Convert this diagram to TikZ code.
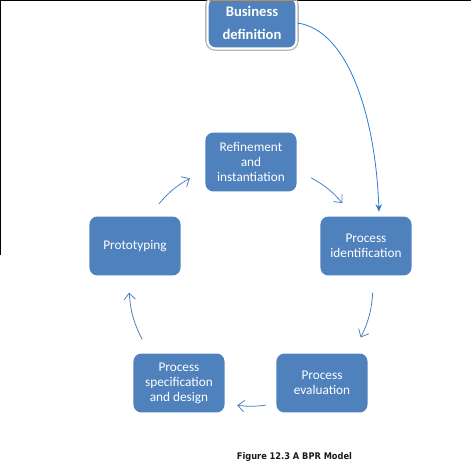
\documentclass[tikz,border=0pt]{standalone}
\usepackage{fontspec}
\setmainfont{Carlito}
\newfontfamily\capfont[FakeStretch=0.9]{DejaVu Sans}
\usetikzlibrary{arrows.meta, positioning, calc}
\definecolor{Phase}{HTML}{4F81BD}
\definecolor{BizRim}{HTML}{B4B8BE}
\definecolor{Feed}{HTML}{2E7BCF}
\definecolor{Tab}{HTML}{C08A50}
\definecolor{Ink}{HTML}{1A1A1A}

\begin{document}
\begin{tikzpicture}[
  phasebox/.style={
    rounded corners=6pt,
    fill=Phase,
    draw=none,
    align=center,
    text=white,
    inner sep=1pt,
    minimum width=2.41cm,
    minimum height=1.56cm,
    font=\fontsize{10}{11.3}\selectfont
  },
  bizbox/.style={
    rounded corners=6pt,
    preaction={draw=BizRim, line width=3.6pt},
    draw=white,
    line width=1.6pt,
    fill=Phase,
    align=center,
    text=white,
    inner sep=1pt,
    minimum width=2.35cm,
    minimum height=1.35cm,
    font=\bfseries\fontsize{11}{17.2}\selectfont
  },
  cyclearrow/.style={
    -{Straight Barb[length=1.7mm,width=3mm]},
    line width=0.6pt,
    draw=Phase
  },
  feedarrow/.style={
    -{Stealth[length=2mm,width=1.7mm]},
    line width=0.6pt,
    draw=Feed
  }
]

\useasboundingbox (0,0) rectangle (12.463,12.569);

% page frame, cut at the top
\draw[black, line width=1pt] (0.013,5.82) -- (0.013,12.556) -- (12.463,12.556);

\node[bizbox] (biz) at (6.668,11.96) {Business\\definition};
\fill[Tab] (5.53,12.53) rectangle (7.83,12.569);

% the cycle
\node[phasebox] (refine) at (6.641,8.282) {Refinement\\and\\instantiation};
\node[phasebox] (procid) at (9.684,6.059) {Process\\identification};
\node[phasebox] (evaluation) at (8.520,2.434) {Process\\evaluation};
\node[phasebox] (spec) at (4.736,2.434) {Process\\specification\\and design};
\node[phasebox] (proto) at (3.572,6.059) {Prototyping};

\coordinate (hub) at (6.641,5.054);
\coordinate (protoOut) at ($(hub)+(139:3.23)$);
\coordinate (refineIn) at ($(hub)+(120:3.23)$);
\coordinate (refineOut) at ($(hub)+(60.5:3.23)$);
\coordinate (procidIn) at ($(hub)+(41.5:3.23)$);
\coordinate (procidOut) at ($(hub)+(-4:3.23)$);
\coordinate (evalIn) at ($(hub)+(-26:3.23)$);
\coordinate (evalOut) at ($(hub)+(-83:3.23)$);
\coordinate (specIn) at ($(hub)+(-96.5:3.23)$);
\coordinate (specOut) at ($(hub)+(-153:3.23)$);
\coordinate (protoIn) at ($(hub)+(-176:3.23)$);

\draw[cyclearrow] (protoOut) to[bend left=10] (refineIn);
\draw[cyclearrow] (refineOut) to[bend left=10] (procidIn);
\draw[cyclearrow] (procidOut) to[bend left=11] (evalIn);
\draw[cyclearrow] (evalOut) to[bend left=7] (specIn);
\draw[cyclearrow] (specOut) to[bend left=11.5] (protoIn);

% entry into the cycle
\coordinate (feedEnd) at ($(procid.north)+(0.344,0.12)$);
\draw[feedarrow] (biz.east) to[out=-8, in=92, out looseness=0.65, in looseness=1.15] (feedEnd);

\node[text=Ink, font=\capfont\bfseries\fontsize{6.9}{9}\selectfont] (caption) at (7.792,0.476)
  {Figure 12.3 A BPR Model};

\end{tikzpicture}
\end{document}
